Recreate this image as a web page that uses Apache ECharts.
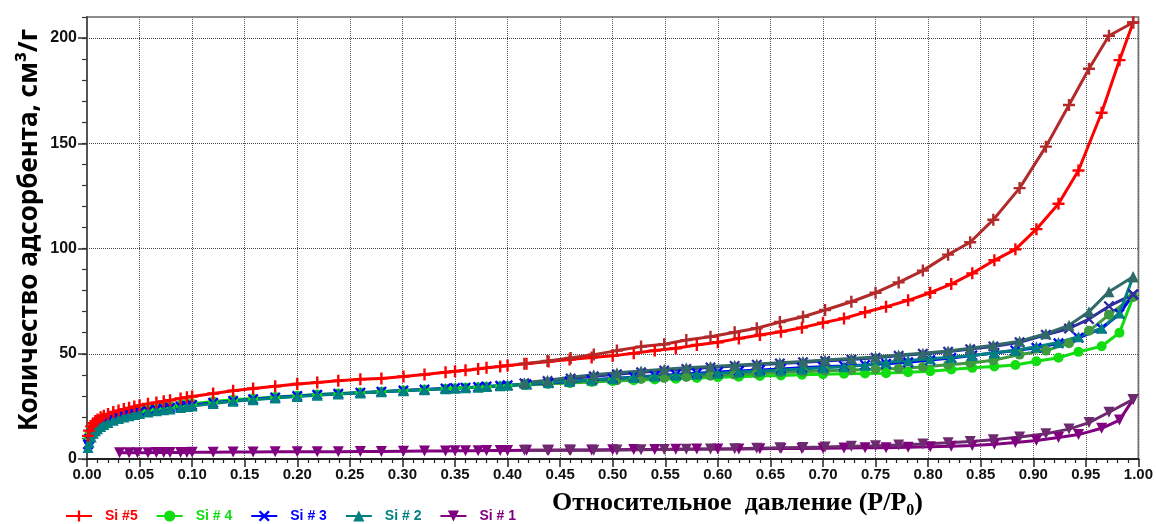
<!DOCTYPE html>
<html>
<head>
<meta charset="utf-8">
<script src="https://cdn.jsdelivr.net/npm/echarts@6/dist/echarts.min.js"></script>
<style>
  html, body { margin: 0; padding: 0; background: #ffffff; }
  #chart { width: 1156px; height: 524px; }
</style>
</head>
<body>
<div id="chart"></div>
<script>
// Relative pressure points (P/P0) of the adsorption branches, Si #2 ... Si #5
const pressureAds = [
  0.001, 0.002, 0.004, 0.006, 0.008, 0.010, 0.013, 0.016, 0.020, 0.025,
  0.030, 0.035, 0.040, 0.045, 0.050, 0.058, 0.066, 0.073, 0.079, 0.089,
  0.095, 0.100, 0.120, 0.139, 0.158, 0.179, 0.200, 0.219, 0.239, 0.260,
  0.280, 0.301, 0.321, 0.341, 0.350, 0.360, 0.372, 0.380, 0.393, 0.400,
  0.418, 0.439, 0.459, 0.480, 0.500, 0.520, 0.540, 0.560, 0.580, 0.600,
  0.620, 0.640, 0.660, 0.680, 0.700, 0.720, 0.740, 0.760, 0.781, 0.802,
  0.822, 0.842, 0.863, 0.883, 0.903, 0.924, 0.943, 0.965, 0.982, 0.995
];
// Adsorption branch of Si #1 starts later
const pressureAdsSi1 = [
  0.031, 0.040, 0.048, 0.058, 0.066, 0.073, 0.079, 0.089, 0.095, 0.100,
  0.120, 0.139, 0.158, 0.179, 0.200, 0.219, 0.239, 0.260, 0.280, 0.301,
  0.321, 0.341, 0.350, 0.360, 0.372, 0.380, 0.393, 0.400, 0.418, 0.439,
  0.459, 0.480, 0.500, 0.520, 0.540, 0.560, 0.580, 0.600, 0.620, 0.640,
  0.660, 0.680, 0.700, 0.720, 0.740, 0.760, 0.781, 0.802, 0.822, 0.842,
  0.863, 0.883, 0.903, 0.924, 0.943, 0.965, 0.982, 0.995
];
// Relative pressure points of the desorption branches
const pressureDes = [
  0.995, 0.972, 0.953, 0.934, 0.912, 0.887, 0.862, 0.840, 0.819, 0.795,
  0.772, 0.750, 0.727, 0.702, 0.681, 0.659, 0.637, 0.616, 0.593, 0.570,
  0.549, 0.527, 0.504, 0.482, 0.460, 0.438, 0.416
];

// Quantity adsorbed, cm3/g
const si5Ads = [
  11.0, 13.5, 15.5, 17.0, 18.0, 18.8, 19.8, 20.6, 21.4, 22.3,
  23.0, 23.7, 24.3, 24.9, 25.5, 26.2, 26.8, 27.4, 27.9, 28.8,
  29.3, 29.7, 31.1, 32.4, 33.5, 34.6, 35.6, 36.4, 37.2, 37.9,
  38.3, 39.2, 40.1, 41.2, 41.7, 42.2, 42.8, 43.3, 44.0, 44.4,
  45.3, 46.3, 47.3, 48.2, 49.0, 50.2, 51.5, 52.6, 54.2, 55.5,
  57.3, 58.9, 60.5, 62.4, 64.7, 66.8, 69.7, 72.3, 75.4, 79.0,
  83.1, 88.2, 94.4, 99.6, 109.2, 121.3, 137.1, 164.5, 189.5, 207.4
];
const si5Des = [
  207.4, 201.1, 185.4, 168.2, 148.4, 128.7, 113.7, 103.0, 97.1, 89.5,
  83.9, 79.0, 74.7, 70.8, 67.6, 65.1, 62.1, 60.2, 58.1, 56.5,
  54.5, 53.4, 51.5, 49.6, 48.0, 46.6, 45.3
];
const si4Ads = [
  9.0, 11.5, 13.8, 15.2, 16.2, 17.0, 18.0, 18.8, 19.6, 20.4,
  21.1, 21.7, 22.3, 22.8, 23.3, 23.9, 24.4, 24.8, 25.2, 25.8,
  26.1, 26.3, 27.3, 28.1, 28.8, 29.5, 30.1, 30.6, 31.1, 31.6,
  32.0, 32.5, 33.0, 33.4, 33.6, 33.8, 34.1, 34.3, 34.6, 34.8,
  35.2, 35.7, 36.1, 36.6, 37.0, 37.4, 37.8, 38.1, 38.5, 38.8,
  39.1, 39.4, 39.7, 40.0, 40.3, 40.5, 40.6, 40.8, 41.2, 41.7,
  42.5, 43.3, 44.0, 44.7, 46.4, 48.1, 50.9, 53.6, 60.0, 77.0
];
const si4Des = [
  77.0, 68.5, 60.9, 55.0, 51.5, 49.6, 46.9, 45.6, 44.8, 43.7,
  43.0, 42.6, 42.3, 41.9, 41.5, 41.1, 40.6, 40.1, 39.6, 39.0,
  38.5, 38.0, 37.4, 36.9, 36.3, 35.8, 35.3
];
const si3Ads = [
  7.0, 9.5, 12.0, 13.6, 14.8, 15.7, 16.8, 17.6, 18.5, 19.4,
  20.1, 20.8, 21.4, 21.9, 22.4, 23.0, 23.6, 24.0, 24.4, 25.0,
  25.3, 25.6, 26.7, 27.6, 28.4, 29.2, 29.9, 30.5, 31.0, 31.5,
  32.0, 32.5, 33.0, 33.5, 33.7, 33.9, 34.2, 34.4, 34.8, 35.0,
  35.5, 36.1, 36.8, 37.6, 38.3, 38.9, 39.5, 40.1, 40.7, 41.3,
  41.8, 42.3, 42.8, 43.3, 43.8, 44.2, 44.7, 45.3, 46.0, 47.0,
  48.0, 49.2, 50.4, 51.6, 52.8, 55.0, 57.6, 62.0, 69.0, 78.2
];
const si3Des = [
  78.2, 72.6, 66.5, 62.0, 59.0, 55.5, 53.5, 52.2, 51.0, 50.0,
  49.0, 48.1, 47.3, 46.6, 46.0, 45.4, 44.8, 44.2, 43.5, 42.8,
  42.0, 41.2, 40.3, 39.3, 38.2, 37.0, 36.0
];
const si2Ads = [
  5.5, 8.0, 10.5, 12.2, 13.4, 14.4, 15.5, 16.4, 17.4, 18.4,
  19.2, 19.9, 20.5, 21.1, 21.6, 22.3, 22.9, 23.4, 23.8, 24.5,
  24.9, 25.2, 26.4, 27.4, 28.2, 29.0, 29.7, 30.3, 30.9, 31.4,
  31.9, 32.4, 32.9, 33.4, 33.6, 33.8, 34.1, 34.4, 34.8, 35.0,
  35.6, 36.3, 36.9, 37.5, 38.1, 38.7, 39.3, 39.8, 40.3, 40.8,
  41.3, 41.8, 42.3, 42.8, 43.3, 43.8, 44.6, 46.0, 46.8, 47.6,
  48.4, 49.2, 50.5, 51.7, 53.3, 55.4, 58.1, 62.1, 69.4, 86.6
];
const si2Des = [
  86.6, 79.5, 70.0, 63.5, 59.5, 56.0, 54.0, 52.6, 51.3, 50.3,
  49.4, 48.5, 47.7, 47.0, 46.3, 45.7, 45.1, 44.6, 44.0, 43.3,
  42.6, 41.8, 41.0, 40.0, 38.8, 37.4, 36.2
];
const si1Ads = [
  3.0, 3.0, 3.0, 3.0, 3.1, 3.1, 3.1, 3.1, 3.1, 3.2,
  3.2, 3.3, 3.3, 3.4, 3.4, 3.5, 3.5, 3.6, 3.6, 3.7,
  3.8, 3.8, 3.9, 3.9, 3.9, 4.0, 4.0, 4.0, 4.1, 4.2,
  4.3, 4.3, 4.4, 4.5, 4.5, 4.6, 4.7, 4.7, 4.8, 4.9,
  5.0, 5.0, 5.1, 5.2, 5.3, 5.4, 5.6, 5.8, 6.1, 6.4,
  7.0, 7.8, 8.8, 10.2, 11.6, 14.6, 18.5, 28.3
];
const si1Des = [
  28.3, 22.2, 17.3, 14.2, 12.0, 10.4, 9.2, 8.3, 7.7, 7.1,
  6.7, 6.3, 6.0, 5.7, 5.5, 5.3, 5.1, 4.9, 4.7, 4.6,
  4.5, 4.4, 4.3, 4.2, 4.2, 4.1, 4.1
];

const legendNames = ['Si #5', 'Si # 4', 'Si # 3', 'Si # 2', 'Si # 1'];
const yMajorTicks = [0, 50, 100, 150, 200];
const xTitle = '{t|Относительное  давление (P/P}{s|0}{t|)}';
const yTitle = 'Количество адсорбента, см³/г';

// marker shapes
const PLUS = 'path://M4,0H6V4H10V6H6V10H4V6H0V4H4Z';
const CROSS = 'path://M1.5,0L5,3.5L8.5,0L10,1.5L6.5,5L10,8.5L8.5,10L5,6.5L1.5,10L0,8.5L3.5,5L0,1.5Z';

function pairs(xs, ys) {
  return xs.map((x, i) => [x, ys[i]]);
}

function curve(name, xs, ys, color, symbol, size, rotate) {
  return {
    name: name,
    type: 'line',
    data: pairs(xs, ys),
    symbol: symbol,
    symbolSize: size,
    symbolRotate: rotate || 0,
    showSymbol: true,
    showAllSymbol: true,
    smooth: false,
    lineStyle: { color: color, width: 3 },
    itemStyle: { color: color, borderWidth: 0 },
    emphasis: { disabled: true }
  };
}

const SANS = '"Liberation Sans", Arial, sans-serif';
const SERIF = '"Liberation Serif", "Times New Roman", serif';

const chart = echarts.init(document.getElementById('chart'), null, { renderer: 'canvas' });

chart.setOption({
  animation: false,
  backgroundColor: '#ffffff',
  grid: {
    left: 87, right: 17, top: 17, bottom: 65,
    show: true, borderColor: '#8c8c8c', borderWidth: 2, backgroundColor: 'transparent'
  },
  legend: {
    data: [
      { name: legendNames[0], textStyle: { color: '#ff0000' } },
      { name: legendNames[1], textStyle: { color: '#11dd11' } },
      { name: legendNames[2], textStyle: { color: '#0000ff' } },
      { name: legendNames[3], textStyle: { color: '#008080' } },
      { name: legendNames[4], textStyle: { color: '#800080' } }
    ],
    left: 60, top: 504,
    itemWidth: 26, itemHeight: 14, itemGap: 18,
    textStyle: { fontFamily: SANS, fontWeight: 'bold', fontSize: 14, padding: [0, 0, 0, 8] },
    selectedMode: false
  },
  xAxis: {
    type: 'value', min: 0, max: 1, interval: 0.05,
    axisLine: { show: true, onZero: false, lineStyle: { color: '#222', width: 2 } },
    axisTick: { show: true, length: 8, lineStyle: { color: '#222', width: 1.5 } },
    minorTick: { show: true, splitNumber: 5, length: 4, lineStyle: { color: '#222', width: 1.2 } },
    axisLabel: {
      formatter: v => v.toFixed(2),
      fontFamily: SANS, fontWeight: 'bold', fontSize: 15, color: '#111', margin: 8
    },
    splitLine: { show: true, lineStyle: { type: 'dotted', color: '#555', width: 1 } }
  },
  yAxis: [
    {
      type: 'value', min: 0, max: 210, interval: 50,
      axisLine: { show: true, onZero: false, lineStyle: { color: '#555', width: 2 } },
      axisTick: { show: true, length: 9, customValues: yMajorTicks, lineStyle: { color: '#333', width: 1.5 } },
      axisLabel: {
        customValues: yMajorTicks,
        fontFamily: SANS, fontWeight: 'bold', fontSize: 16, color: '#111', margin: 10
      },
      splitLine: { show: true, lineStyle: { type: 'dotted', color: '#444', width: 1 } }
    },
    {
      // short ticks every 10 units
      type: 'value', min: 0, max: 210, interval: 10, position: 'left',
      axisLine: { show: false },
      axisTick: { show: true, length: 5, lineStyle: { color: '#333', width: 1.2 } },
      axisLabel: { show: false },
      splitLine: { show: false }
    }
  ],
  graphic: [
    {
      type: 'text', left: 552, top: 490, silent: true,
      style: {
        text: xTitle,
        rich: {
          t: { fontFamily: SERIF, fontWeight: 'bold', fontSize: 26, fill: '#000', lineHeight: 32, verticalAlign: 'middle' },
          s: { fontFamily: SERIF, fontWeight: 'bold', fontSize: 16, fill: '#000', lineHeight: 16, verticalAlign: 'bottom' }
        }
      }
    },
    {
      type: 'text', x: 30, y: 230, rotation: Math.PI / 2, silent: true,
      style: {
        text: yTitle,
        fontFamily: '"Noto Sans", sans-serif', fontWeight: 'bold', fontSize: 26,
        fill: '#000', align: 'center', verticalAlign: 'middle'
      }
    }
  ],
  series: [
    curve('Si # 1', pressureAdsSi1, si1Ads, '#800080', 'triangle', 11, 180),
    curve('Si # 1 desorption', pressureDes, si1Des, '#6e2a6e', 'triangle', 11, 180),
    curve('Si # 4', pressureAds, si4Ads, '#11dd11', 'circle', 10),
    curve('Si # 4 desorption', pressureDes, si4Des, '#3f9a3f', 'circle', 10),
    curve('Si # 3', pressureAds, si3Ads, '#0000ff', CROSS, 11),
    curve('Si # 3 desorption', pressureDes, si3Des, '#2e2e9c', CROSS, 11),
    curve('Si # 2', pressureAds, si2Ads, '#008080', 'triangle', 11),
    curve('Si # 2 desorption', pressureDes, si2Des, '#326a6a', 'triangle', 11),
    curve('Si #5', pressureAds, si5Ads, '#ff0000', PLUS, 12),
    curve('Si #5 desorption', pressureDes, si5Des, '#b22a2a', PLUS, 12)
  ]
});
</script>
</body>
</html>
